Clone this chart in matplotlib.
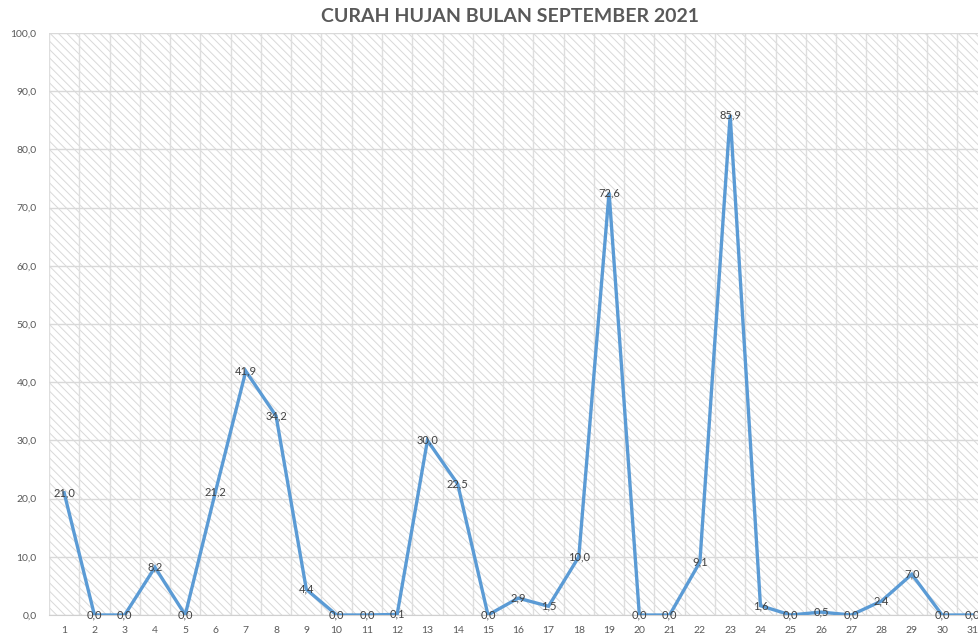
import numpy as np
import matplotlib
matplotlib.use("Agg")
import matplotlib.pyplot as plt
from matplotlib.patches import Rectangle

# curah hujan harian (mm), September 2021
hari = list(range(1, 32))
curah = [21.0, 0.0, 0.0, 8.2, 0.0, 21.2, 41.9, 34.2, 4.4, 0.0,
         0.0, 0.1, 30.0, 22.5, 0.0, 2.9, 1.5, 10.0, 72.6, 0.0,
         0.0, 9.1, 85.9, 1.6, 0.0, 0.5, 0.0, 2.4, 7.0, 0.0, 0.0]
judul = 'CURAH HUJAN BULAN SEPTEMBER 2021'

plt.rcParams['font.family'] = ['Lato', 'DejaVu Sans']
plt.rcParams['hatch.linewidth'] = 0.7

fig = plt.figure(figsize=(9.79, 6.38), dpi=100)
# plot area runs past the right edge, like the cropped original
left = 49 / 979
width = (987.5 - 49) / 979
bottom = (638 - 615) / 638
height = (615 - 33) / 638
ax = fig.add_axes([left, bottom, width, height])

# hatched background
bg = Rectangle((0, 0), 1, 1, transform=ax.transAxes, facecolor='white',
               edgecolor='#d9d9d9', hatch='\\\\\\\\', linewidth=0, zorder=0)
ax.add_patch(bg)

ax.plot(hari, curah, color='#5b9bd5', linewidth=2.4, zorder=3, solid_joinstyle='miter')
for x, y in zip(hari, curah):
    ax.text(x, y, f'{y:.1f}'.replace('.', ','), ha='center', va='center',
            fontsize=8, color='#404040', zorder=4)

ax.set_xlim(0.5, 31.5)
ax.set_ylim(0, 100)
ax.set_xticks(hari)
ax.set_xticks(np.arange(0.5, 32, 0.5), minor=True)
ax.set_yticks(np.arange(0, 101, 10))
ax.set_yticklabels([f'{v:.1f}'.replace('.', ',') for v in np.arange(0, 101, 10)])
ax.grid(True, which='minor', axis='x', color='#dedede', linewidth=1.0, zorder=1)
ax.grid(True, which='major', axis='y', color='#d9d9d9', linewidth=1.0, zorder=1)
ax.set_axisbelow(True)
ax.tick_params(which='both', length=0)
ax.tick_params(axis='x', pad=8, labelsize=7.5, labelcolor='#595959')
ax.tick_params(axis='y', pad=9, labelsize=7.5, labelcolor='#595959')
for s in ['top', 'right', 'left']:
    ax.spines[s].set_visible(False)
ax.spines['bottom'].set_color('#d0d0d0')

fig.text(510 / 979, 1 - 16 / 638, judul, ha='center', va='center',
         fontsize=14, fontweight='bold', color='#595959')

fig.savefig('out.png', dpi=100)
